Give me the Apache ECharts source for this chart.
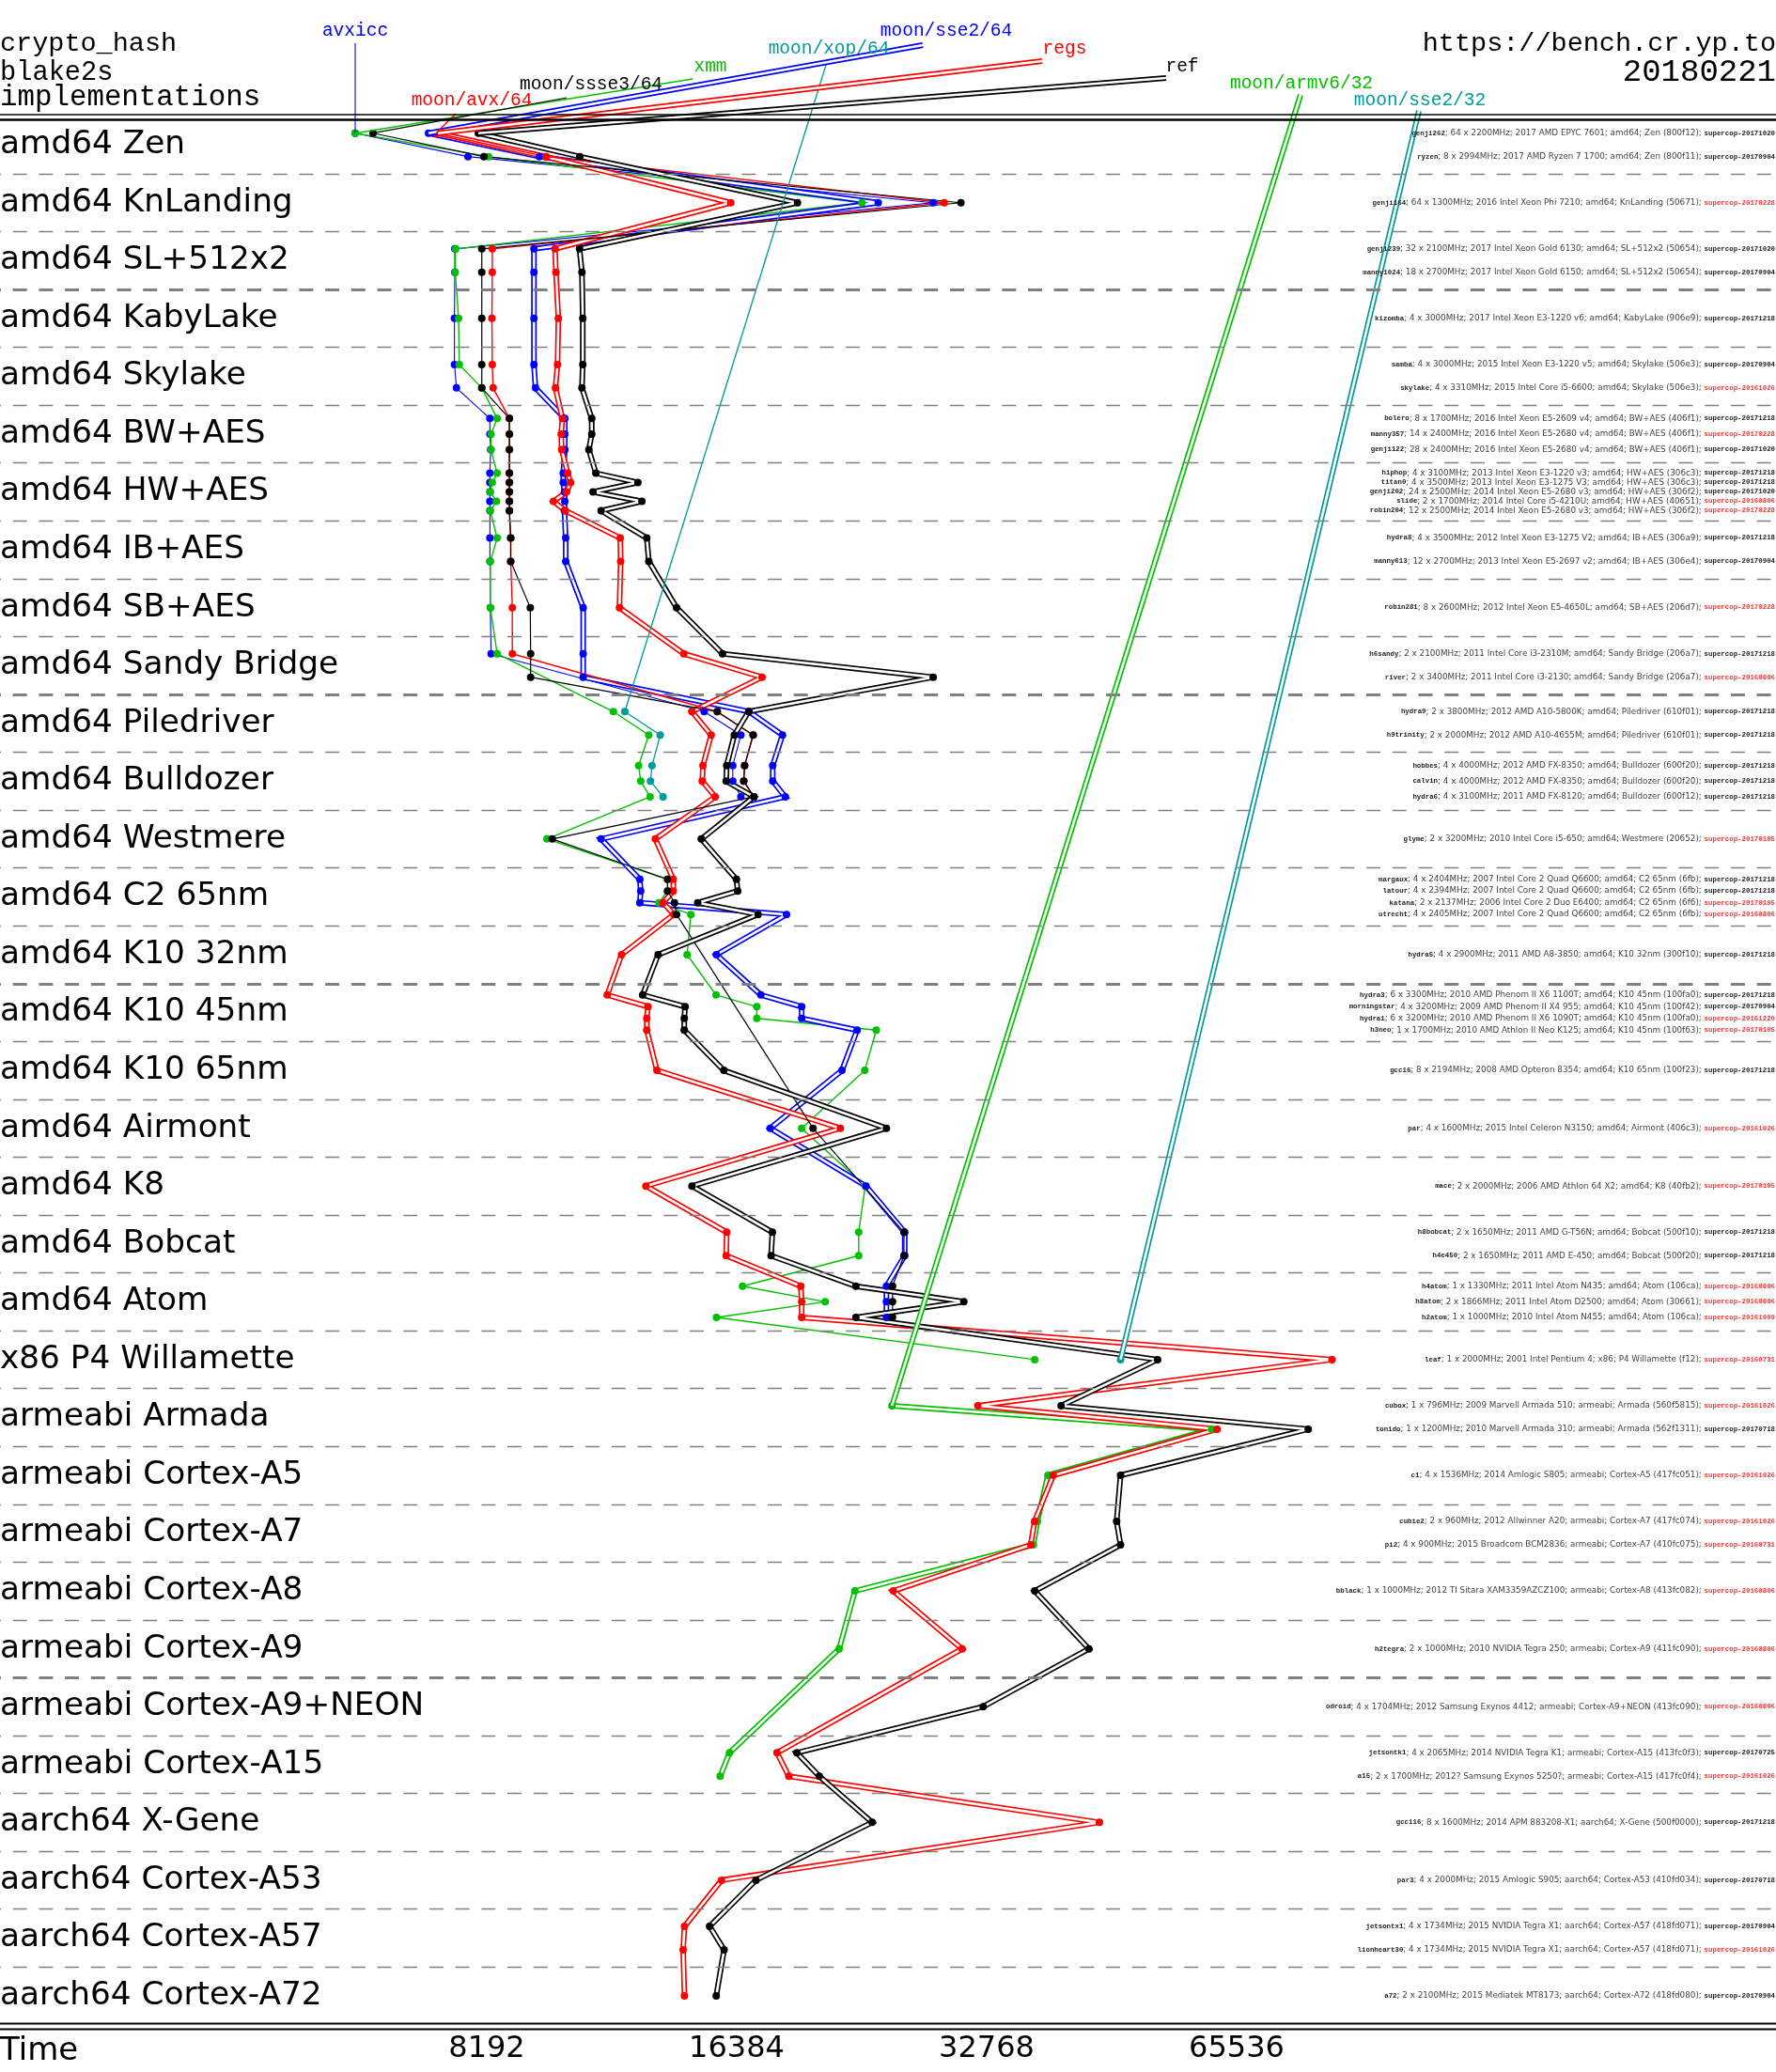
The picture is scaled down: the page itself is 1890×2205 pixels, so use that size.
<!DOCTYPE html>
<html><head><meta charset="utf-8">
<script src="https://cdn.jsdelivr.net/npm/echarts@6/dist/echarts.min.js"></script>
<style>html,body{margin:0;padding:0;background:#fff}#c{width:1890px;height:2205px}</style>
</head><body><div id="c"></div>
<script>
// ---------------- data ----------------
const categories = ["amd64 Zen","amd64 KnLanding","amd64 SL+512x2","amd64 KabyLake","amd64 Skylake","amd64 BW+AES","amd64 HW+AES","amd64 IB+AES","amd64 SB+AES","amd64 Sandy Bridge","amd64 Piledriver","amd64 Bulldozer","amd64 Westmere","amd64 C2 65nm","amd64 K10 32nm","amd64 K10 45nm","amd64 K10 65nm","amd64 Airmont","amd64 K8","amd64 Bobcat","amd64 Atom","x86 P4 Willamette","armeabi Armada","armeabi Cortex-A5","armeabi Cortex-A7","armeabi Cortex-A8","armeabi Cortex-A9","armeabi Cortex-A9+NEON","armeabi Cortex-A15","aarch64 X-Gene","aarch64 Cortex-A53","aarch64 Cortex-A57","aarch64 Cortex-A72"];

const machineNames = ["genji262","ryzen","genji164","genji239","manny1024","kizomba","samba","skylake","bolero","manny357","genji122","hiphop","titan0","genji202","slide","robin204","hydra8","manny613","robin281","h6sandy","river","hydra9","h9trinity","hobbes","calvin","hydra6","glyme","margaux","latour","katana","utrecht","hydra5","hydra3","morningstar","hydra1","h3neo","gcc16","par","mace","h8bobcat","h4e450","h4atom","h8atom","h2atom","leaf","cubox","tonido","c1","cubie2","pi2","bblack","h2tegra","odroid","jetsontk1","a15","gcc116","par3","jetsontx1","lionheart30","a72"];

const machineCategory = [0,0,1,2,2,3,4,4,5,5,5,6,6,6,6,6,7,7,8,9,9,10,10,11,11,11,12,13,13,13,13,14,15,15,15,15,16,17,18,19,19,20,20,20,21,22,22,23,24,24,25,26,27,28,28,29,30,31,31,32];

const machineDetails = [
"64 x 2200MHz; 2017 AMD EPYC 7601; amd64; Zen (800f12)",
"8 x 2994MHz; 2017 AMD Ryzen 7 1700; amd64; Zen (800f11)",
"64 x 1300MHz; 2016 Intel Xeon Phi 7210; amd64; KnLanding (50671)",
"32 x 2100MHz; 2017 Intel Xeon Gold 6130; amd64; SL+512x2 (50654)",
"18 x 2700MHz; 2017 Intel Xeon Gold 6150; amd64; SL+512x2 (50654)",
"4 x 3000MHz; 2017 Intel Xeon E3-1220 v6; amd64; KabyLake (906e9)",
"4 x 3000MHz; 2015 Intel Xeon E3-1220 v5; amd64; Skylake (506e3)",
"4 x 3310MHz; 2015 Intel Core i5-6600; amd64; Skylake (506e3)",
"8 x 1700MHz; 2016 Intel Xeon E5-2609 v4; amd64; BW+AES (406f1)",
"14 x 2400MHz; 2016 Intel Xeon E5-2680 v4; amd64; BW+AES (406f1)",
"28 x 2400MHz; 2016 Intel Xeon E5-2680 v4; amd64; BW+AES (406f1)",
"4 x 3100MHz; 2013 Intel Xeon E3-1220 v3; amd64; HW+AES (306c3)",
"4 x 3500MHz; 2013 Intel Xeon E3-1275 V3; amd64; HW+AES (306c3)",
"24 x 2500MHz; 2014 Intel Xeon E5-2680 v3; amd64; HW+AES (306f2)",
"2 x 1700MHz; 2014 Intel Core i5-4210U; amd64; HW+AES (40651)",
"12 x 2500MHz; 2014 Intel Xeon E5-2680 v3; amd64; HW+AES (306f2)",
"4 x 3500MHz; 2012 Intel Xeon E3-1275 V2; amd64; IB+AES (306a9)",
"12 x 2700MHz; 2013 Intel Xeon E5-2697 v2; amd64; IB+AES (306e4)",
"8 x 2600MHz; 2012 Intel Xeon E5-4650L; amd64; SB+AES (206d7)",
"2 x 2100MHz; 2011 Intel Core i3-2310M; amd64; Sandy Bridge (206a7)",
"2 x 3400MHz; 2011 Intel Core i3-2130; amd64; Sandy Bridge (206a7)",
"2 x 3800MHz; 2012 AMD A10-5800K; amd64; Piledriver (610f01)",
"2 x 2000MHz; 2012 AMD A10-4655M; amd64; Piledriver (610f01)",
"4 x 4000MHz; 2012 AMD FX-8350; amd64; Bulldozer (600f20)",
"4 x 4000MHz; 2012 AMD FX-8350; amd64; Bulldozer (600f20)",
"4 x 3100MHz; 2011 AMD FX-8120; amd64; Bulldozer (600f12)",
"2 x 3200MHz; 2010 Intel Core i5-650; amd64; Westmere (20652)",
"4 x 2404MHz; 2007 Intel Core 2 Quad Q6600; amd64; C2 65nm (6fb)",
"4 x 2394MHz; 2007 Intel Core 2 Quad Q6600; amd64; C2 65nm (6fb)",
"2 x 2137MHz; 2006 Intel Core 2 Duo E6400; amd64; C2 65nm (6f6)",
"4 x 2405MHz; 2007 Intel Core 2 Quad Q6600; amd64; C2 65nm (6fb)",
"4 x 2900MHz; 2011 AMD A8-3850; amd64; K10 32nm (300f10)",
"6 x 3300MHz; 2010 AMD Phenom II X6 1100T; amd64; K10 45nm (100fa0)",
"4 x 3200MHz; 2009 AMD Phenom II X4 955; amd64; K10 45nm (100f42)",
"6 x 3200MHz; 2010 AMD Phenom II X6 1090T; amd64; K10 45nm (100fa0)",
"1 x 1700MHz; 2010 AMD Athlon II Neo K125; amd64; K10 45nm (100f63)",
"8 x 2194MHz; 2008 AMD Opteron 8354; amd64; K10 65nm (100f23)",
"4 x 1600MHz; 2015 Intel Celeron N3150; amd64; Airmont (406c3)",
"2 x 2000MHz; 2006 AMD Athlon 64 X2; amd64; K8 (40fb2)",
"2 x 1650MHz; 2011 AMD G-T56N; amd64; Bobcat (500f10)",
"2 x 1650MHz; 2011 AMD E-450; amd64; Bobcat (500f20)",
"1 x 1330MHz; 2011 Intel Atom N435; amd64; Atom (106ca)",
"2 x 1866MHz; 2011 Intel Atom D2500; amd64; Atom (30661)",
"1 x 1000MHz; 2010 Intel Atom N455; amd64; Atom (106ca)",
"1 x 2000MHz; 2001 Intel Pentium 4; x86; P4 Willamette (f12)",
"1 x 796MHz; 2009 Marvell Armada 510; armeabi; Armada (560f5815)",
"1 x 1200MHz; 2010 Marvell Armada 310; armeabi; Armada (562f1311)",
"4 x 1536MHz; 2014 Amlogic S805; armeabi; Cortex-A5 (417fc051)",
"2 x 960MHz; 2012 Allwinner A20; armeabi; Cortex-A7 (417fc074)",
"4 x 900MHz; 2015 Broadcom BCM2836; armeabi; Cortex-A7 (410fc075)",
"1 x 1000MHz; 2012 TI Sitara XAM3359AZCZ100; armeabi; Cortex-A8 (413fc082)",
"2 x 1000MHz; 2010 NVIDIA Tegra 250; armeabi; Cortex-A9 (411fc090)",
"4 x 1704MHz; 2012 Samsung Exynos 4412; armeabi; Cortex-A9+NEON (413fc090)",
"4 x 2065MHz; 2014 NVIDIA Tegra K1; armeabi; Cortex-A15 (413fc0f3)",
"2 x 1700MHz; 2012? Samsung Exynos 5250?; armeabi; Cortex-A15 (417fc0f4)",
"8 x 1600MHz; 2014 APM 883208-X1; aarch64; X-Gene (500f0000)",
"4 x 2000MHz; 2015 Amlogic S905; aarch64; Cortex-A53 (410fd034)",
"4 x 1734MHz; 2015 NVIDIA Tegra X1; aarch64; Cortex-A57 (418fd071)",
"4 x 1734MHz; 2015 NVIDIA Tegra X1; aarch64; Cortex-A57 (418fd071)",
"2 x 2100MHz; 2015 Mediatek MT8173; aarch64; Cortex-A72 (418fd080)"];

const machineSupercop = ["20171020","20170904","20170228","20171020","20170904","20171218","20170904","20161026","20171218","20170228","20171020","20171218","20171218","20171020","20160806","20170228","20171218","20170904","20170228","20171218","20160806","20171218","20171218","20171218","20171218","20171218","20170105","20171218","20171218","20170105","20160806","20171218","20171218","20170904","20161220","20170105","20171218","20161026","20170105","20171218","20171218","20160806","20160806","20161009","20160731","20161026","20170718","20161026","20161026","20160731","20160806","20160806","20160806","20170725","20161026","20171218","20170718","20170904","20161026","20170904"];

// cycles per machine (index = machine), null = not measured
const refTimes = [8002,10603,19392,10595,10666,10691,10691,10666,10960,10960,10874,11086,12456,11000,12596,11249,12768,12841,13867,15752,28252,16935,16277,15934,15913,17184,14854,16371,16427,14705,17382,13176,12623,14200,14166,14166,15809,24815,14473,18085,18024,22799,30757,22799,52636,40277,79933,47501,46984,47501,37435,43508,32454,19358,20601,23850,17279,15199,15821,15479];
const regsTimes = [7154,9653,16113,9901,9924,9992,9968,9911,10104,10069,10083,10255,10335,10221,9857,10186,11863,11876,11835,14148,17578,14473,15263,14920,14890,15435,13074,13741,13741,13357,13759,11904,11442,12811,12768,12768,13132,21840,12738,15934,15913,19571,19617,19617,85376,31976,62078,39407,37425,37027,25291,30605,null,18322,18933,44797,15707,14174,14122,14174];
const sse2_64Times = [6970,9479,24258,9337,9337,9337,9337,9378,10172,10172,10172,10128,10128,10162,10172,10162,10197,10197,10703,10703,10703,16955,18601,18104,18104,18747,11249,12524,12554,12524,18810,15487,17519,19617,19617,22877,21938,17982,23450,26108,26108,24815,24815,24815,null,null,null,null,null,null,null,null,null,null,null,null,null,null,null,null];
const ssse3Times = [5977,8128,30510,8080,8080,8080,8080,8080,8723,8723,8723,8723,8723,8723,8723,8723,8755,8755,9243,9252,9252,15524,17148,16747,16707,17184,9823,13525,13525,13788,13867,null,null,null,null,null,null,20245,null,26050,26050,25239,25239,25239,null,null,null,null,null,null,null,null,null,null,null,null,null,null,null,null];
const avxTimes = [7117,9653,29128,8319,8319,8310,8319,8338,8723,8723,8723,8723,8723,8723,8723,8723,8755,8755,8794,8794,null,15524,17148,16747,16707,17184,null,null,null,null,null,null,null,null,null,null,null,null,null,null,null,null,null,null,null,null,null,null,null,null,null,null,null,null,null,null,null,null,null,null];
const xmmTimes = [5688,8235,23183,7515,7507,7576,7592,8080,8432,8291,8291,8432,8319,8274,8415,8274,8432,8274,8274,8432,null,11637,12838,12482,12554,12885,9681,13525,13525,13208,14427,14278,15471,17324,17324,24126,23371,19617,23400,22979,22979,16651,20941,15490,37435,null,null,null,null,null,null,null,null,null,null,null,null,null,null,null];
const avxiccTimes = [5688,7776,28252,7498,7498,7490,7490,7532,8263,8265,8282,8263,8263,8265,8263,8265,8263,8265,8274,8291,null,14971,16573,16206,16206,16573,null,null,null,null,null,null,null,null,null,null,null,null,null,null,null,null,null,null,null,null,null,null,null,null,null,null,null,null,null,null,null,null,null,null];
const xopTimes = [null,null,null,null,null,null,null,null,null,null,null,null,null,null,null,null,null,null,null,null,null,12013,13252,12956,12899,13357,null,null,null,null,null,null,null,null,null,null,null,null,null,null,null,null,null,null,null,null,null,null,null,null,null,null,null,null,null,null,null,null,null,null];
const armv6Times = [null,null,null,null,null,null,null,null,null,null,null,null,null,null,null,null,null,null,null,null,null,null,null,null,null,null,null,null,null,null,null,null,null,null,null,null,null,null,null,null,null,null,null,null,null,25200,61164,38836,37708,37298,22739,21766,null,16059,15649,null,null,null,null,null];
const sse2_32Times = [null,null,null,null,null,null,null,null,null,null,null,null,null,null,null,null,null,null,null,null,null,null,null,null,null,null,null,null,null,null,null,null,null,null,null,null,null,null,null,null,null,null,null,null,47501,null,null,null,null,null,null,null,null,null,null,null,null,null,null,null];

const xTickLabels = [8192, 16384, 32768, 65536];
const groupBreaks = [3, 10, 15, 27];

// ---------------- styles ----------------
const GREEN = '#00c000', TEAL = '#009a9a', RED = '#ff0000', BLUE = '#0000ff', BLACK = '#000000';
const IMPLS = [
  {name:'moon/armv6/32', data:armv6Times, color:GREEN, dbl:true, label:[1385,89], anchor:[1384,101]},
  {name:'moon/sse2/32', data:sse2_32Times, color:TEAL, dbl:true, label:[1511,107], anchor:[1510,118]},
  {name:'moon/xop/64', data:xopTimes, color:TEAL, width:1.3, label:[882,52], anchor:[880,66]},
  {name:'avxicc', data:avxiccTimes, color:BLUE, width:1.1, label:[378,33], anchor:[378,46]},
  {name:'xmm', data:xmmTimes, color:GREEN, width:1.4, label:[756,71], anchor:[737,84]},
  {name:'moon/sse2/64', data:sse2_64Times, color:BLUE, dbl:true, label:[1007,33], anchor:[982,48]},
  {name:'regs', data:regsTimes, color:RED, dbl:true, label:[1133,52], anchor:[1109,65]},
  {name:'moon/avx/64', data:avxTimes, color:RED, width:1.4, label:[502,107], anchor:[485,121]},
  {name:'moon/ssse3/64', data:ssse3Times, color:BLACK, width:1.2, label:[629,90], anchor:[603,104]},
  {name:'ref', data:refTimes, color:BLACK, dbl:true, label:[1258,71], anchor:[1241,83]}
];
const DBL_OUTER = 6, DBL_INNER = 2.6, DOT = 8;

// sub-row position of each machine inside its category band
const catCount = categories.map((_, c) => machineCategory.filter(v => v === c).length);
const machineY = machineCategory.map((c, m) => {
  const n = catCount[c];
  const k = machineCategory.slice(0, m).filter(v => v === c).length;
  return c + 0.5 + (k - (n - 1) / 2) * 0.81 / n;
});

// ---------------- chart ----------------
const chart = echarts.init(document.getElementById('c'), null, {renderer:'canvas'});
const series = [];
const sepData = [];
for (let k = 1; k < categories.length; k++) {
  const thick = groupBreaks.includes(k);
  sepData.push({yAxis:k, lineStyle:{color:'#808080', width: thick ? 3 : 1.3, type:[15,12.7]}});
}
series.push({type:'line', name:'sep', xAxisIndex:0, yAxisIndex:1, data:[], z:1, silent:true,
  markLine:{silent:true, symbol:['none','none'], label:{show:false}, animation:false, data:sepData}});

const firstSeriesIndex = {};
const firstPoint = {};
IMPLS.forEach(im => {
  const pts = [];
  im.data.forEach((v, m) => { if (v != null) pts.push([v, machineY[m]]); });
  firstPoint[im.name] = pts[0];
  firstSeriesIndex[im.name] = series.length;
  if (im.dbl) {
    series.push({type:'line', name:im.name, xAxisIndex:0, yAxisIndex:1, data:pts, z:3, silent:true,
      symbol:'none', showSymbol:false, lineStyle:{color:im.color, width:DBL_OUTER, join:'miter', miterLimit:2.2}});
    series.push({type:'line', name:im.name + '_in', xAxisIndex:0, yAxisIndex:1, data:pts, z:3, silent:true,
      symbol:'circle', symbolSize:DOT, showSymbol:true, itemStyle:{color:im.color},
      lineStyle:{color:'#ffffff', width:DBL_INNER, join:'miter', miterLimit:3.5}});
  } else {
    series.push({type:'line', name:im.name, xAxisIndex:0, yAxisIndex:1, data:pts, z:3, silent:true,
      symbol:'circle', symbolSize:DOT, showSymbol:true, itemStyle:{color:im.color},
      lineStyle:{color:im.color, width:im.width}});
  }
});

chart.setOption({
  animation:false,
  backgroundColor:'#ffffff',
  grid:{left:-14, right:-37.8, top:123.4, bottom:50.2, containLabel:false, outerBoundsMode:'none'},
  xAxis:{type:'log', logBase:2, min:2048, max:Math.pow(2,18.3),
    axisLine:{show:false}, axisTick:{show:false}, splitLine:{show:false}, minorTick:{show:false}, minorSplitLine:{show:false},
    axisLabel:{margin:10, fontSize:32, fontFamily:'DejaVu Sans', color:'#000',
      formatter: v => { const r = Math.round(v); return xTickLabels.includes(r) ? String(r) : ''; }}},
  yAxis:[
    {type:'category', data:categories, inverse:true, axisLine:{show:false}, axisTick:{show:false}, splitLine:{show:false},
      axisLabel:{inside:true, margin:14, interval:0, fontSize:34.3, fontFamily:'DejaVu Sans', color:'#000', align:'left'}},
    {type:'value', min:0, max:categories.length, inverse:true, show:false}
  ],
  series:series
});

// ---------------- texts, legend leaders, frame ----------------
const g = [];
const mono = 'Liberation Mono';
g.push({type:'text', x:0, y:46, z:20, style:{text:'crypto_hash', font:'28.5px "' + mono + '"', fill:'#000', align:'left', verticalAlign:'middle'}});
g.push({type:'text', x:0, y:77, z:20, style:{text:'blake2s', font:'28.7px "' + mono + '"', fill:'#000', align:'left', verticalAlign:'middle'}});
g.push({type:'text', x:0, y:104, z:20, style:{text:'implementations', font:'30.8px "' + mono + '"', fill:'#000', align:'left', verticalAlign:'middle'}});
g.push({type:'text', x:1890, y:46, z:20, style:{text:'https://bench.cr.yp.to', font:'28.5px "' + mono + '"', fill:'#000', align:'right', verticalAlign:'middle'}});
g.push({type:'text', x:1890, y:77, z:20, style:{text:'20180221', font:'34px "' + mono + '"', fill:'#000', align:'right', verticalAlign:'middle'}});
g.push({type:'text', x:0, y:2183, z:20, style:{text:'Time', font:'34px "DejaVu Sans"', fill:'#000', align:'left', verticalAlign:'middle'}});

IMPLS.forEach(im => {
  const p = chart.convertToPixel({seriesIndex:firstSeriesIndex[im.name]}, firstPoint[im.name]);
  const shape = {x1:im.anchor[0], y1:im.anchor[1], x2:p[0], y2:p[1]};
  if (im.dbl) {
    g.push({type:'line', z:4, shape:shape, style:{stroke:im.color, lineWidth:DBL_OUTER}});
    g.push({type:'line', z:4, shape:shape, style:{stroke:'#ffffff', lineWidth:DBL_INNER}});
  } else {
    g.push({type:'line', z:4, shape:shape, style:{stroke:im.color, lineWidth:im.width}});
  }
  g.push({type:'text', x:im.label[0], y:im.label[1], z:20,
    style:{text:im.name, font:'19.5px "' + mono + '"', fill:im.color, align:'center', verticalAlign:'middle'}});
});

// frame lines
[[122,1.5],[127.5,2.5],[2153.5,2],[2159.5,2]].forEach(([y, w]) => {
  g.push({type:'line', z:20, shape:{x1:0, y1:y, x2:1890, y2:y}, style:{stroke:'#000', lineWidth:w}});
});

// machine descriptions on the right
machineNames.forEach((nm, m) => {
  const py = chart.convertToPixel({yAxisIndex:1}, machineY[m]);
  const old = machineSupercop[m] < '20170701';
  g.push({type:'text', x:1889, y:py, z:10, style:{
    text:'{n|' + nm + '}{d|; ' + machineDetails[m] + '; }{' + (old ? 'o' : 'v') + '|supercop-' + machineSupercop[m] + '}',
    align:'right', verticalAlign:'middle',
    rich:{
      n:{fontFamily:mono, fontSize:7.4, fontWeight:'bold', fill:'#222'},
      d:{fontFamily:'DejaVu Sans', fontSize:8.8, fill:'#444'},
      v:{fontFamily:mono, fontSize:7.4, fontWeight:'bold', fill:'#222'},
      o:{fontFamily:mono, fontSize:7.4, fontWeight:'bold', fill:'#ff3030'}
    }}});
});

chart.setOption({graphic:{elements:g}});
</script></body></html>
